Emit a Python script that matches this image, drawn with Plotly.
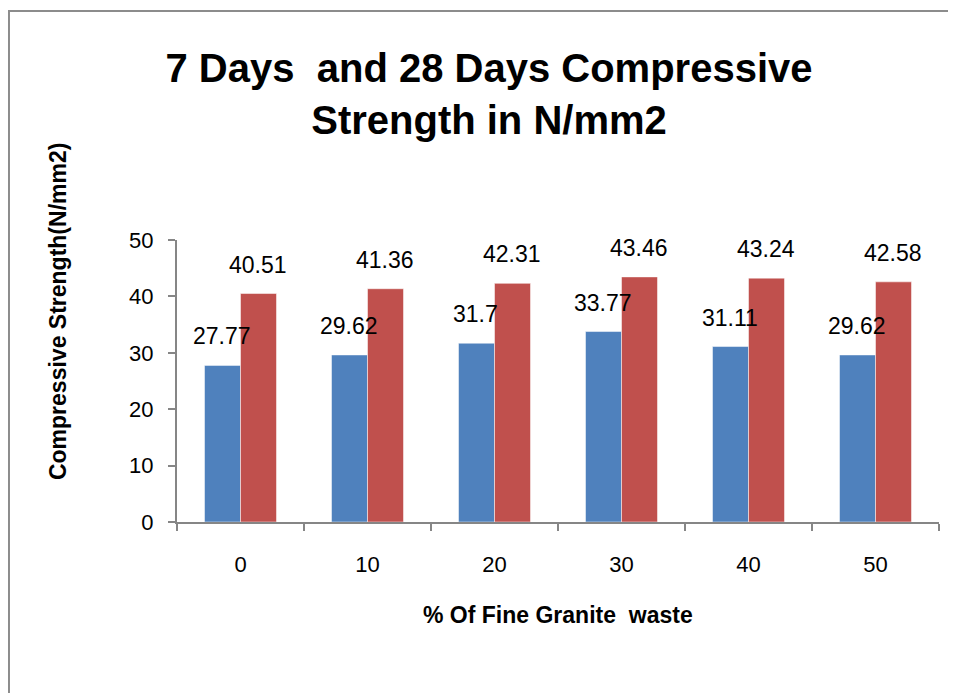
import plotly.graph_objects as go

categories = ["0", "10", "20", "30", "40", "50"]
days7 = [27.77, 29.62, 31.7, 33.77, 31.11, 29.62]
days28 = [40.51, 41.36, 42.31, 43.46, 43.24, 42.58]
labels7 = ["27.77", "29.62", "31.7", "33.77", "31.11", "29.62"]
labels28 = ["40.51", "41.36", "42.31", "43.46", "43.24", "42.58"]

BLUE = "#4F81BD"
RED = "#C0504D"
AXIS = "#868686"
num_font = "Liberation Sans, Arial, sans-serif"
bold_font = "Liberation Sans, Arial, sans-serif"

fig = go.Figure()
fig.add_trace(go.Bar(x=categories, y=days7, marker=dict(color=BLUE, line=dict(color="white", width=0.5)), name="7 Days"))
fig.add_trace(go.Bar(x=categories, y=days28, marker=dict(color=RED, line=dict(color="white", width=0.5)), name="28 Days"))

for i, (v, t) in enumerate(zip(days7, labels7)):
    fig.add_annotation(x=i, y=v, xref="x", yref="y", text=t, showarrow=False, xshift=-19, yshift=29,
                       font=dict(family=num_font, size=23, color="black"))
for i, (v, t) in enumerate(zip(days28, labels28)):
    fig.add_annotation(x=i, y=v, xref="x", yref="y", text=t, showarrow=False, xshift=17, yshift=29,
                       font=dict(family=num_font, size=23, color="black"))

# axis titles
fig.add_annotation(text="Compressive Strength(N/mm2)", xref="paper", yref="paper",
                   x=-0.156, y=0.745, textangle=-90, showarrow=False,
                   xanchor="center", yanchor="middle",
                   font=dict(family=bold_font, size=23, color="black", weight="bold"))
fig.add_annotation(text="% Of Fine Granite\u00a0\u00a0waste", xref="paper", yref="paper",
                   x=0.5, y=-0.33, showarrow=False, xanchor="center", yanchor="middle",
                   font=dict(family=bold_font, size=23, color="black", weight="bold"))

fig.add_shape(type="rect", xref="paper", yref="paper", x0=-0.2205, x1=1.2, y0=-1.0, y1=1.812,
              line=dict(color="#8c8c8c", width=2), fillcolor="rgba(0,0,0,0)", layer="below")

fig.update_layout(
    width=956, height=693,
    margin=dict(l=169, r=25, t=232, b=179),
    paper_bgcolor="white", plot_bgcolor="white",
    showlegend=False,
    barmode="group", bargap=0.433, bargroupgap=0,
    title=dict(text="7 Days\u00a0\u00a0and 28 Days Compressive<br>Strength in N/mm2",
               x=481/956, xanchor="center", y=1 - 74/693, yanchor="middle",
               font=dict(family=bold_font, size=40, color="black", weight="bold")),
    xaxis=dict(type="category", range=[-0.5, 5.5], showline=True, linecolor=AXIS, linewidth=2,
               ticks="outside", tickson="boundaries", ticklen=7, tickcolor=AXIS, tickwidth=2,
               tickfont=dict(family=num_font, size=22, color="black"), tickangle=0,
               ticklabelstandoff=22, showgrid=False),
    yaxis=dict(range=[0, 50], dtick=10, showline=True, linecolor=AXIS, linewidth=2,
               ticks="outside", ticklen=7, tickcolor=AXIS, tickwidth=2,
               tickfont=dict(family=num_font, size=22, color="black"),
               ticklabelstandoff=10, showgrid=False, zeroline=False),
)

fig.write_html("out.html")
